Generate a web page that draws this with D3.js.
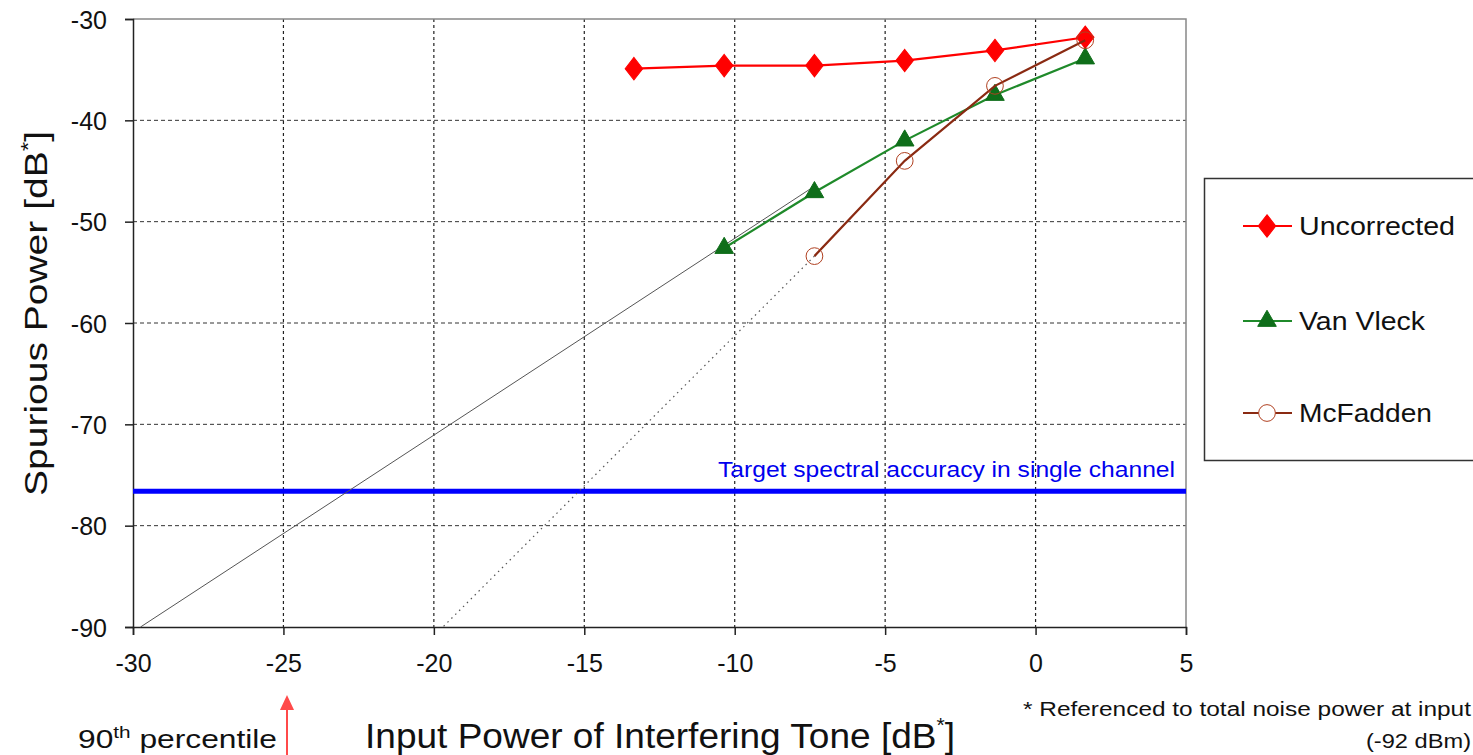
<!DOCTYPE html>
<html>

<head>
    <meta charset="utf-8">
    <script src="https://d3js.org/d3.v7.min.js"></script>
    <style>
        body { margin: 0; background: #fff; }
        text { font-family: "Liberation Sans", Arial, sans-serif; }
    </style>
</head>
<body>
    <script>
        // data
        const inputPower = [-13.35, -10.35, -7.35, -4.35, -1.35, 1.65];
        const uncorrected = [-34.9, -34.6, -34.6, -34.1, -33.1, -31.8];
        const vanVleckX = [-10.35, -7.35, -4.35, -1.35, 1.65];
        const vanVleck = [-52.6, -47.1, -42.0, -37.5, -33.9];
        const mcFaddenX = [-7.35, -4.35, -1.35, 1.65];
        const mcFadden = [-53.4, -44.0, -36.6, -32.1];
        // extrapolations
        const vanVleckFit = [[-7.35, -46.5], [-29.75, -90]];
        const mcFaddenFit = [[-7.35, -53.4], [-19.7, -90]];
        const target = -76.6;
        const xTicks = [-30, -25, -20, -15, -10, -5, 0, 5];
        const yTicks = [-30, -40, -50, -60, -70, -80, -90];

        let width = 1473,
            height = 755;

        let svg = d3.select("body").append("svg")
            .attr("width", width)
            .attr("height", height);

        let x = d3.scaleLinear().domain([-30, 5]).range([133, 1186]);
        let y = d3.scaleLinear().domain([-90, -30]).range([627, 19]);

        // grid
        svg.append("g")
            .selectAll("line")
            .data(xTicks.slice(1, -1))
            .join("line")
                .attr("x1", d => x(d)).attr("x2", d => x(d))
                .attr("y1", y(-30)).attr("y2", y(-90))
                .attr("stroke", "#222")
                .attr("stroke-width", 1.2)
                .attr("stroke-dasharray", "3,3");
        svg.append("g")
            .selectAll("line")
            .data(yTicks.slice(1, -1))
            .join("line")
                .attr("x1", x(-30)).attr("x2", x(5))
                .attr("y1", d => y(d)).attr("y2", d => y(d))
                .attr("stroke", "#333")
                .attr("stroke-width", 1)
                .attr("stroke-dasharray", "4,3");

        // frame top / right
        svg.append("path")
            .attr("d", `M${x(-30)},${y(-30)}H${x(5)}V${y(-90)}`)
            .attr("fill", "none")
            .attr("stroke", "#888")
            .attr("stroke-width", 1.5);

        // axes
        let xAxis = svg.append("g")
            .attr("transform", `translate(0,${y(-90)})`)
            .call(d3.axisBottom(x).tickValues(xTicks).tickSize(8).tickPadding(24).tickFormat(d => String(d)));
        let yAxis = svg.append("g")
            .attr("transform", `translate(${x(-30)},0)`)
            .call(d3.axisLeft(y).tickValues(yTicks).tickSize(8).tickPadding(18).tickFormat(d => String(d)));
        [xAxis, yAxis].forEach(a => {
            a.select(".domain").attr("stroke", "#222").attr("stroke-width", 1.5);
            a.selectAll(".tick line").attr("stroke", "#222").attr("stroke-width", 1.5);
            a.selectAll(".tick text")
                .attr("font-family", "Liberation Sans, Arial, sans-serif")
                .attr("font-size", 25)
                .attr("fill", "#111");
        });
        xAxis.selectAll(".tick text").attr("dy", "0.5em");
        yAxis.selectAll(".tick text").attr("dy", "0.36em");

        // target line
        svg.append("line")
            .attr("x1", x(-30)).attr("x2", x(5))
            .attr("y1", y(target)).attr("y2", y(target))
            .attr("stroke", "#0000ff")
            .attr("stroke-width", 5);
        svg.append("text")
            .attr("x", 718).attr("y", 477)
            .attr("font-size", 22)
            .attr("textLength", 457)
            .attr("lengthAdjust", "spacingAndGlyphs")
            .attr("fill", "#0000ee")
            .text("Target spectral accuracy in single channel");

        let line = d3.line().x(d => x(d[0])).y(d => y(d[1]));

        // extrapolation lines
        svg.append("path")
            .attr("d", line(vanVleckFit))
            .attr("fill", "none").attr("stroke", "#555").attr("stroke-width", 1);
        svg.append("path")
            .attr("d", line(mcFaddenFit))
            .attr("fill", "none").attr("stroke", "#555").attr("stroke-width", 1.2)
            .attr("stroke-dasharray", "1.5,4");

        let series = [
            { name: "Uncorrected", xs: inputPower, ys: uncorrected, color: "#ff0000", symbol: d3.symbolDiamond, size: 200, fill: "#ff0000", stroke: "#ff0000", w: 156 },
            { name: "Van Vleck", xs: vanVleckX, ys: vanVleck, color: "#1f8a2a", symbol: d3.symbolTriangle, size: 150, fill: "#0f6e1a", stroke: "#0f6e1a", w: 126 },
            { name: "McFadden", xs: mcFaddenX, ys: mcFadden, color: "#8a2a12", symbol: d3.symbolCircle, size: 220, fill: "#fff", stroke: "#b04020", w: 133 }
        ];

        series.forEach(s => {
            let pts = s.xs.map((v, i) => [v, s.ys[i]]);
            svg.append("path")
                .attr("d", line(pts))
                .attr("fill", "none")
                .attr("stroke", s.color)
                .attr("stroke-width", 2.2);
            svg.append("g")
                .selectAll("path")
                .data(pts)
                .join("path")
                    .attr("transform", d => `translate(${x(d[0])},${y(d[1])})${s.symbol === d3.symbolDiamond ? " scale(1.15,0.85)" : ""}`)
                    .attr("d", d3.symbol().type(s.symbol).size(s.size))
                    .attr("fill", s.fill === "#fff" ? "none" : s.fill)
                    .attr("stroke", s.stroke)
                    .attr("stroke-width", 1);
        });

        // legend
        let legend = svg.append("g");
        legend.append("rect")
            .attr("x", 1204.5).attr("y", 178.5)
            .attr("width", 300).attr("height", 282)
            .attr("fill", "#fff")
            .attr("stroke", "#333")
            .attr("stroke-width", 1.5);
        let legY = [226, 321, 413];
        series.forEach((s, i) => {
            let g = legend.append("g").attr("transform", `translate(0,${legY[i]})`);
            g.append("line")
                .attr("x1", 1243).attr("x2", 1292)
                .attr("stroke", s.color).attr("stroke-width", 2.2);
            g.append("path")
                .attr("transform", `translate(1267,0)${s.symbol === d3.symbolDiamond ? " scale(1.15,0.85)" : ""}`)
                .attr("d", d3.symbol().type(s.symbol).size(s.size))
                .attr("fill", s.fill)
                .attr("stroke", s.stroke)
                .attr("stroke-width", 1);
            g.append("text")
                .attr("x", 1299).attr("y", 0)
                .attr("dy", "0.35em")
                .attr("font-size", 25)
                .attr("textLength", s.w)
                .attr("lengthAdjust", "spacingAndGlyphs")
                .attr("fill", "#111")
                .text(s.name);
        });

        // axis titles
        let yTitle = svg.append("text")
            .attr("transform", "translate(47,496) rotate(-90)")
            .attr("font-size", 32)
            .attr("textLength", 365)
            .attr("lengthAdjust", "spacingAndGlyphs")
            .attr("fill", "#111");
        yTitle.append("tspan").text("Spurious Power [dB");
        yTitle.append("tspan").attr("font-size", 20).attr("dy", -12).text("*");
        yTitle.append("tspan").attr("dy", 12).text("]");

        let xTitle = svg.append("text")
            .attr("x", 365).attr("y", 748)
            .attr("font-size", 35)
            .attr("textLength", 590)
            .attr("lengthAdjust", "spacingAndGlyphs")
            .attr("fill", "#111");
        xTitle.append("tspan").text("Input Power of Interfering Tone [dB");
        xTitle.append("tspan").attr("font-size", 20).attr("dy", -16).text("*");
        xTitle.append("tspan").attr("dy", 16).text("]");

        // footnote
        svg.append("text")
            .attr("x", 1023).attr("y", 716)
            .attr("font-size", 20)
            .attr("textLength", 448)
            .attr("lengthAdjust", "spacingAndGlyphs")
            .attr("fill", "#111")
            .text("* Referenced to total noise power at input");
        svg.append("text")
            .attr("x", 1366).attr("y", 748)
            .attr("font-size", 20)
            .attr("textLength", 105)
            .attr("lengthAdjust", "spacingAndGlyphs")
            .attr("fill", "#111")
            .text("(-92 dBm)");

        // 90th percentile annotation
        let note = svg.append("text")
            .attr("x", 78).attr("y", 748)
            .attr("font-size", 26)
            .attr("textLength", 199)
            .attr("lengthAdjust", "spacingAndGlyphs")
            .attr("fill", "#111");
        note.append("tspan").text("90");
        note.append("tspan").attr("font-size", 17).attr("dy", -10).text("th");
        note.append("tspan").attr("dy", 10).text(" percentile");

        svg.append("line")
            .attr("x1", 287).attr("x2", 287)
            .attr("y1", 755).attr("y2", 708)
            .attr("stroke", "#ff4a4a").attr("stroke-width", 2);
        svg.append("path")
            .attr("d", "M287,695L280,710L294,710Z")
            .attr("fill", "#ff4a4a");
    </script>
</body>
</html>
